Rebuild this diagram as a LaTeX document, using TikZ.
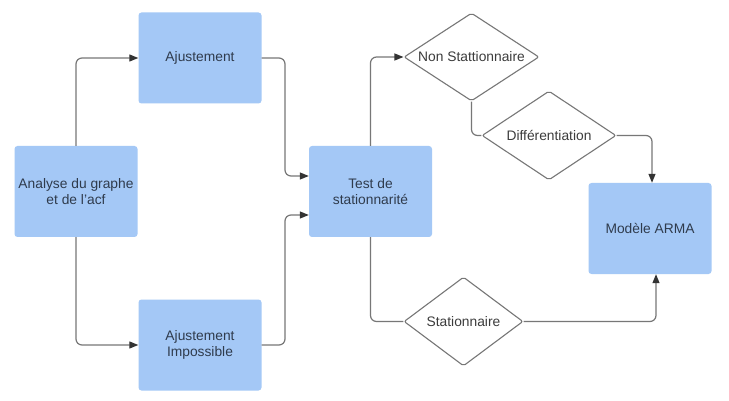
\documentclass[tikz,border=0pt]{standalone}
\usepackage{fontspec}
\setmainfont{Liberation Sans}
\usetikzlibrary{shapes.geometric,arrows.meta}
\definecolor{boxblue}{HTML}{A4C8F6}
\definecolor{boxtext}{HTML}{2F3B4C}
\definecolor{linegray}{HTML}{777777}
\definecolor{diatext}{HTML}{3C3C3C}
\newcommand{\dtext}[1]{\makebox[0pt]{#1}}
\begin{document}
\begin{tikzpicture}[x=1pt,y=-1pt,
  box/.style={rectangle, rounded corners=3pt, fill=boxblue, minimum width=123pt, minimum height=91pt,
    align=center, text=boxtext, font=\fontsize{13.8}{16.7}\selectfont, inner sep=2pt},
  dia/.style={diamond, draw=linegray, line width=1.1pt, rounded corners=2pt, inner sep=0pt,
    text=diatext, font=\fontsize{13.8}{16.7}\selectfont},
  conn/.style={draw=linegray, line width=1.2pt, rounded corners=6pt,
    -{Triangle[length=9pt,width=7pt,fill=black!80,color=black!80]}},
  plain/.style={draw=linegray, line width=1.2pt, rounded corners=6pt}]
\useasboundingbox (0,0) rectangle (729,401);
\fill[white] (0,0) rectangle (729,401);

\node[box] (ana) at (76,191.5) {Analyse du graphe\\et de l'acf};
\node[box] (aju) at (200,58) {Ajustement};
\node[box] (imp) at (200,345) {Ajustement\\Impossible};
\node[box] (test) at (370.5,191.5) {Test de\\stationnarité};
\node[box] (arma) at (650,228.5) {Modèle ARMA};

\node[dia, minimum width=135pt, minimum height=88pt] (ns) at (471.5,57) {\dtext{Non Stattionnaire}};
\node[dia, minimum width=134pt, minimum height=89pt] (diff) at (549,135.5) {\dtext{Différentiation}};
\node[dia, minimum width=119pt, minimum height=89pt] (st) at (463.5,321.5) {\dtext{Stationnaire}};

\draw[conn] (ana.north) |- (aju.west);
\draw[conn] (ana.south) |- (imp.west);
\draw[conn] (aju.east) -| (285,120) |- ([yshift=15.5pt]test.west);
\draw[conn] (imp.east) -| (285,260) |- ([yshift=-23.5pt]test.west);
\draw[conn] (test.north) |- (ns.west);
\draw[plain] (ns.south) |- (diff.west);
\draw[conn] (diff.east) -| ([xshift=2pt]arma.north);
\draw[plain] (test.south) |- (st.west);
\draw[conn] (st.east) -| ([xshift=6pt]arma.south);
\end{tikzpicture}
\end{document}
